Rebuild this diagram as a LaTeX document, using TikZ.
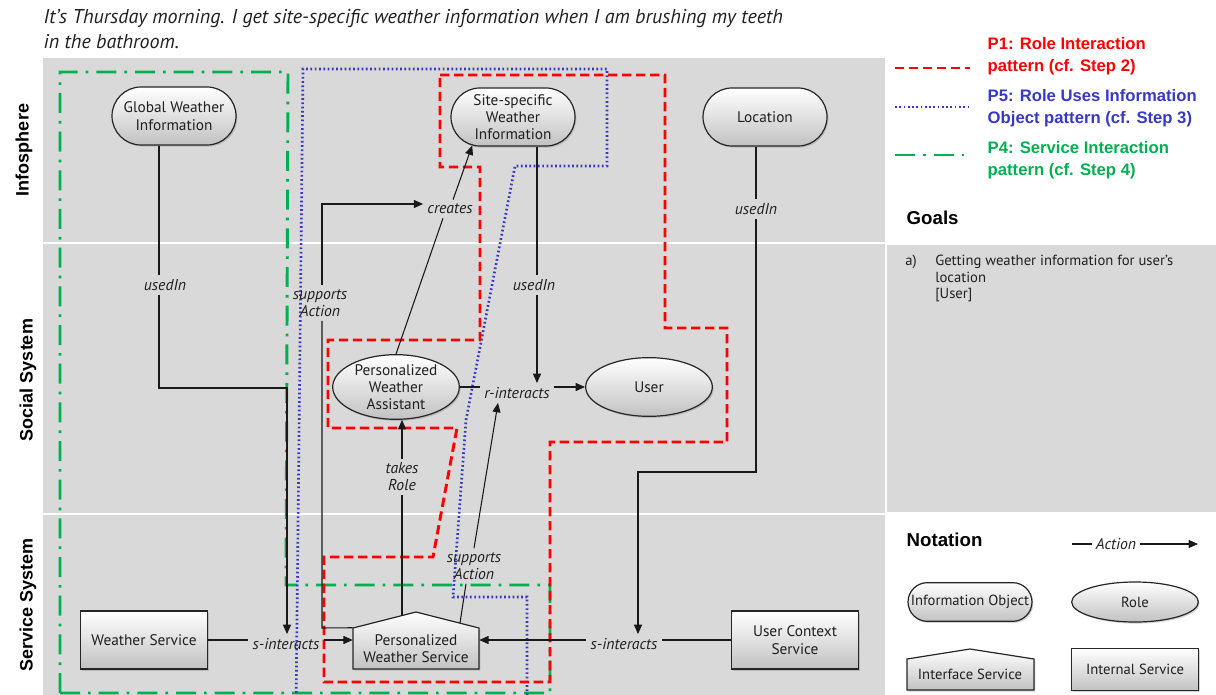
\documentclass[tikz,border=0pt]{standalone}
\usepackage{fontspec}
\setmainfont{PT Sans}
\newfontfamily\arialf{Liberation Sans}
\usetikzlibrary{shapes.misc,shapes.geometric,arrows.meta,shadows,calc}
\definecolor{bgc}{HTML}{D9D9D9}
\definecolor{pred}{HTML}{FF0000}
\definecolor{pblue}{HTML}{3838C4}
\definecolor{pgreen}{HTML}{00B050}
\definecolor{txt}{HTML}{202020}
\begin{document}
\begin{tikzpicture}[x=0.75pt,y=-0.75pt,
  shade3d/.style={top color=white, bottom color=black!24, draw=black!85, line width=0.9pt,
     drop shadow={opacity=0.35,shadow xshift=1pt,shadow yshift=-1.2pt}},
  nfont/.style={font=\fontsize{11.5}{13}\selectfont, text=txt},
  infoobj/.style={shade3d, nfont, rounded rectangle, minimum width=95pt, minimum height=43.5pt, align=center, inner sep=1pt},
  role/.style={shade3d, nfont, ellipse, minimum width=95pt, minimum height=44pt, align=center, inner sep=0pt},
  intsvc/.style={shade3d, nfont, rectangle, minimum width=95pt, minimum height=43.5pt, align=center},
  lbl/.style={font=\fontsize{11.8}{12.8}\selectfont\itshape, text=txt, inner sep=3pt, align=center},
  conn/.style={draw=black!90, line width=0.8pt},
  arr/.style={-{Triangle[length=7pt,width=6pt]}},
  p1/.style={draw=pred, line width=2.2pt, dash pattern=on 7pt off 3.5pt},
  p5/.style={draw=pblue, line width=2pt, dash pattern=on 1.3pt off 1.9pt},
  p4/.style={draw=pgreen, line width=2.2pt, dash pattern=on 15pt off 6pt on 2pt off 6pt},
  rowlbl/.style={font=\arialf\bfseries\fontsize{13.5}{15}\selectfont, rotate=90},
  legtxt/.style={font=\arialf\bfseries\fontsize{12.5}{16.5}\selectfont, align=left, anchor=west},
  head/.style={font=\arialf\bfseries\fontsize{14}{16}\selectfont, anchor=west},
  smallfont/.style={font=\fontsize{11}{12.4}\selectfont, text=txt},
  notefont/.style={font=\fontsize{11}{12}\selectfont},
]
\useasboundingbox (0,0) rectangle (1216,695);
% backgrounds
\fill[bgc] (43,58) rectangle (885,695);
\fill[bgc] (887,245) rectangle (1216,512);
\draw[white, line width=1.2pt] (43,243) -- (885,243);
\draw[white, line width=1.2pt] (43,514) -- (885,514);

% title
\node[anchor=west, font=\fontsize{15}{17}\selectfont\itshape, text=txt] (t1) at (39,19) {It's Thursday morning. I get site-specific weather information when I am brushing my teeth};
\node[anchor=west, font=\fontsize{15}{17}\selectfont\itshape, text=txt] (t2) at (39,42) {in the bathroom.};

% row labels
\node[rowlbl] (r1) at (24,150) {Infosphere};
\node[rowlbl] (r2) at (28,380) {Social System};
\node[rowlbl] (r3) at (28,605) {Service System};

% pattern outlines
\begin{scope}
\clip (43,58) rectangle (885,695);
\draw[p4] (60,693) -- (60,72) -- (288,72) -- (286,585) -- (550,585) -- (550,693) -- cycle;
\draw[p5] (296,710) -- (303,69) -- (607,69) -- (607,166) -- (515,166) -- (466,420) -- (453,597) -- (527,597) -- (527,710);
\draw[p1] (440,75) -- (665,75) -- (665,328) -- (727,328) -- (727,442) -- (550,442) -- (550,682) -- (324,682) -- (324,557) -- (433,557) -- (457,428) -- (328,428) -- (328,340) -- (480,340) -- (480,167) -- (440,167) -- cycle;
\end{scope}

% nodes
\node[infoobj] (gwi) at (174,116) {Global Weather\\Information};
\node[infoobj] (ssi) at (513,117) {Site-specific\\Weather\\Information};
\node[infoobj] (loc) at (765,117) {Location};
\node[role] (pwa) at (396,387) {Personalized\\Weather\\Assistant};
\node[role] (usr) at (649,387) {User};
\node[intsvc] (ws) at (144,640) {Weather Service};
\node[intsvc] (ucs) at (795,640) {User Context\\Service};
\path[shade3d] (353,669) -- (353,628) -- (416,612) -- (479,628) -- (479,669) -- cycle;
\node[nfont, align=center, minimum width=94.5pt, minimum height=30.75pt, inner sep=0pt] (pws) at (416,648.5) {Personalized\\Weather Service};
\coordinate (pwsroofA) at (402,615.5);
\coordinate (pwsroofB) at (460,623);

% labels
\node[lbl] (ui1) at (165,285) {usedIn};
\node[lbl] (si1) at (286,644) {s-interacts};
\node[lbl] (si2) at (624,644) {s-interacts};
\node[lbl] (ui2) at (756,209) {usedIn};
\node[lbl] (ui3) at (534,285) {usedIn};
\node[lbl] (ri) at (517,393) {r-interacts};
\node[lbl] (cr) at (450,209) {creates};
\node[lbl] (sa1) at (320,303) {supports\\Action};
\node[lbl] (sa2) at (474,566) {supports\\Action};
\node[lbl] (tr) at (402,477) {takes\\Role};

% connectors
\draw[conn] (gwi.south -| 159,0) -- (ui1.north -| 159,0);
\draw[conn,arr] (ui1.south -| 159,0) |- (287,388) -- (si1.north -| 287,0);
\draw[conn] (ws.east) -- (si1.west |- ws.east);
\draw[conn,arr] (si1.east |- ws.east) -- (pws.west |- ws.east);
\draw[conn] (ucs.west) -- (si2.east |- ucs.west);
\draw[conn,arr] (si2.west |- ucs.west) -- (pws.east |- ucs.west);
\draw[conn] (loc.south -| 756,0) -- (ui2.north -| 756,0);
\draw[conn,arr] (ui2.south -| 756,0) |- (638,472) -- (si2.north -| 638,0);
\draw[conn] (ssi.south -| 537,0) -- (ui3.north -| 537,0);
\draw[conn,arr] (ui3.south -| 537,0) -- (ri.north -| 537,0);
\draw[conn] (pwa.east) -- (ri.west |- pwa.east);
\draw[conn,arr] (ri.east |- pwa.east) -- (usr.west);
\draw[conn] (pwa.north) -- ($(cr.south)+(-7,0)$);
\draw[conn,arr] ($(cr.north)+(3,0)$) -- (ssi.215);
\draw[conn] (pws.north west) -- (322,628) -- (sa1.south -| 322,0);
\draw[conn,arr] (sa1.north -| 322,0) |- ($(cr.west)+(0,-5)$);
\draw[conn] (pwsroofB) -- ($(sa2.south)+(-8,0)$);
\draw[conn,arr] (sa2.north) -- ($(ri.south)+(-19,0)$);
\draw[conn] (pwsroofA) -- (tr.south -| 402,0);
\draw[conn,arr] (tr.north -| 402,0) -- (pwa.south -| 402,0);

% legend
\draw[p1] (895,68) -- (970,68);
\node[legtxt, text=pred] (l1) at (983,56) {P1: Role Interaction\\pattern (cf. Step 2)};
\draw[p5] (895,107) -- (970,107);
\node[legtxt, text=pblue] (l2) at (983,108) {P5: Role Uses Information\\Object pattern (cf. Step 3)};
\draw[p4] (895,155) -- (970,155);
\node[legtxt, text=pgreen] (l3) at (983,160) {P4: Service Interaction\\pattern (cf. Step 4)};

% goals
\node[head] (goals) at (902,218) {Goals};
\node[anchor=north west, smallfont, inner sep=0pt] (ga) at (905,255) {a)};
\node[anchor=north west, align=left, smallfont, inner sep=0pt] (gt) at (935,255) {Getting weather information for user's\\location\\{[User]}};

% notation
\node[head] (nota) at (902,540) {Notation};
\node[lbl] (act) at (1116,544) {Action};
\coordinate (actA) at (1072,544);
\coordinate (actB) at (1198,544);
\draw[conn] (actA) -- (act.west);
\draw[conn,arr] (act.east) -- (actB);
\node[infoobj, minimum height=29pt, notefont] (nio) at (970,602) {Information Object};
\node[role, minimum height=30pt, notefont] (nrole) at (1135,602) {Role};
\path[shade3d] (907,690) -- (907,659) -- (970,649) -- (1034,659) -- (1034,690) -- cycle;
\node[nfont, notefont] (nif) at (970,674) {Interface Service};
\node[intsvc, minimum height=31pt, notefont] (nis) at (1135,669.5) {Internal Service};
\end{tikzpicture}
\end{document}
